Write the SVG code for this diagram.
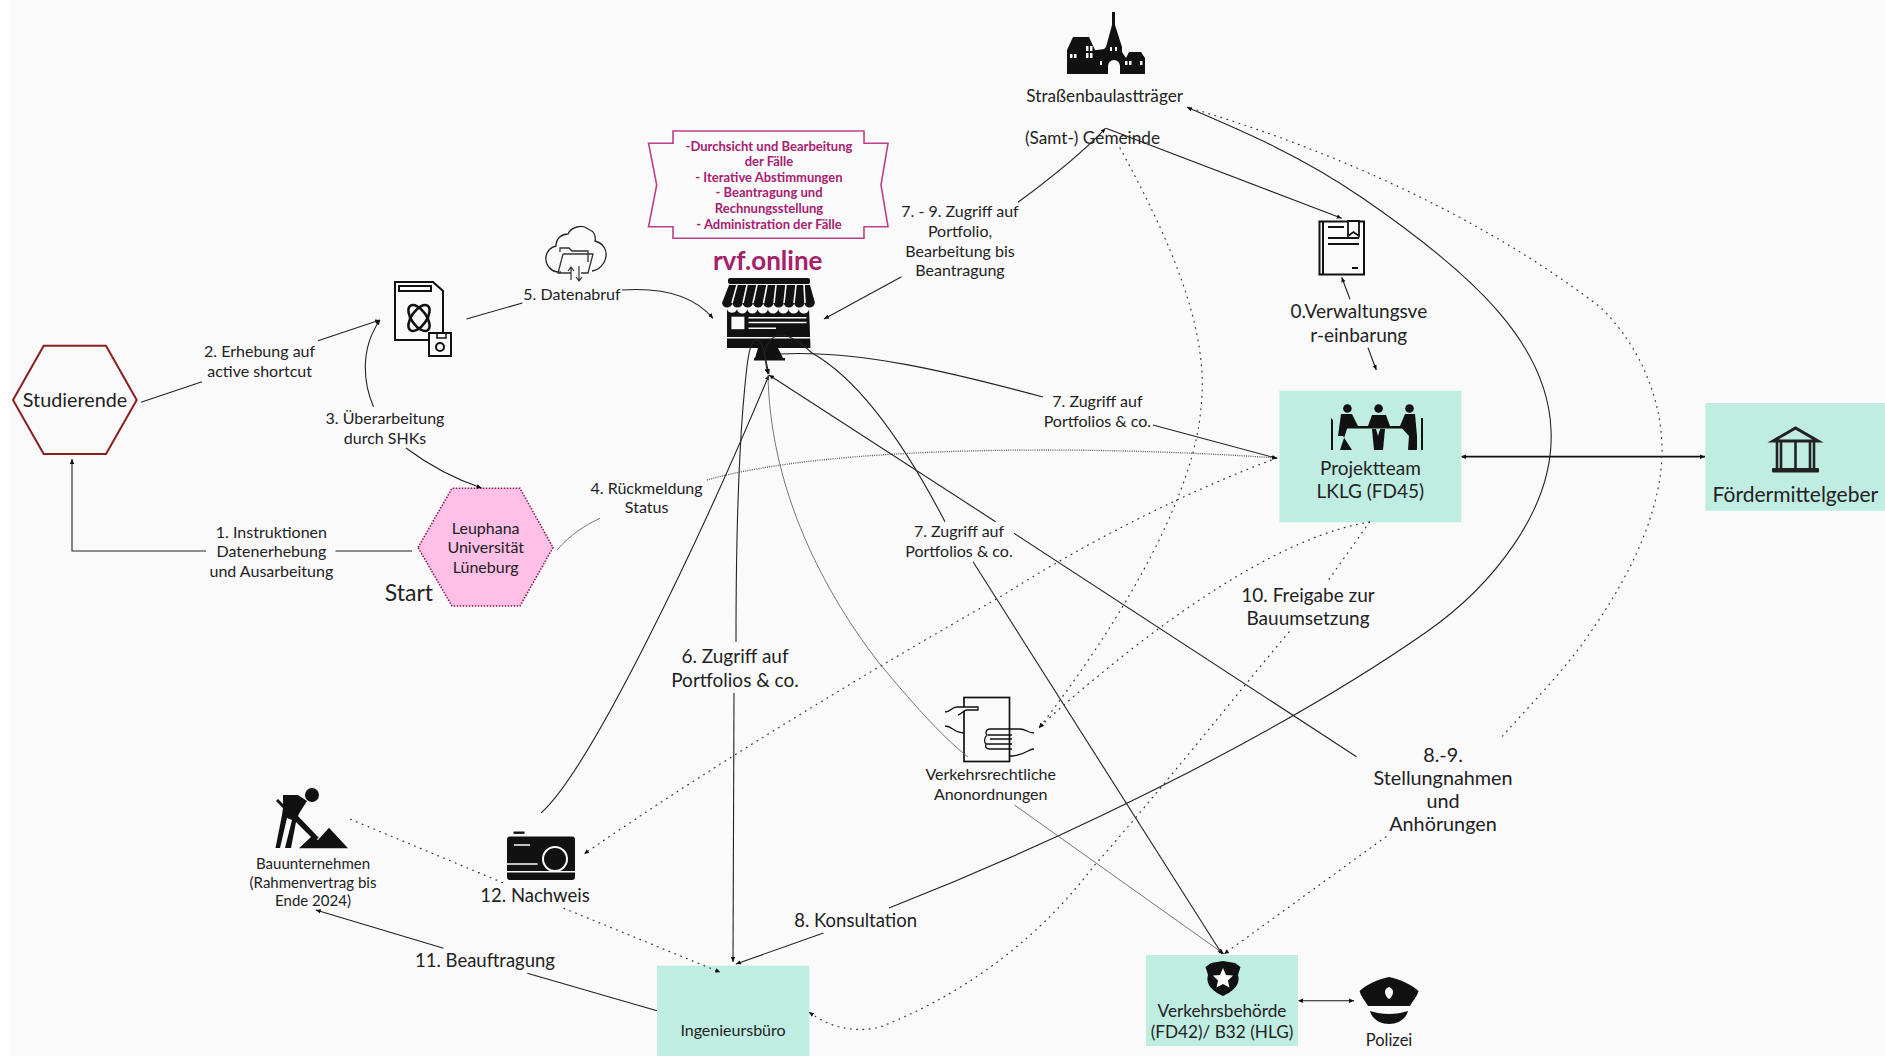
<svg xmlns="http://www.w3.org/2000/svg" width="1885" height="1056" viewBox="0 0 1885 1056">
<style>
text{font-family:"Lato","Open Sans","Liberation Sans",sans-serif;fill:#222;text-anchor:middle}
.s{font-size:16px}.m{font-size:19px}.n{font-size:17.2px}.k{font-size:18.5px}.x{font-size:19.8px}.t{font-size:15px}
.b{font-family:"Lato","Liberation Sans",sans-serif;font-weight:700;font-size:13px;fill:#A8206E}
.l{stroke:#222;stroke-width:1.1;fill:none}
.a{marker-end:url(#h)}
.d{stroke:#333;stroke-width:1.2;stroke-dasharray:0.8 5.5;fill:none;stroke-linecap:round}
.g{stroke:#666;stroke-width:0.9;fill:none}
.gd{stroke:#555;stroke-width:1.3;stroke-dasharray:1 1.2;fill:none}
.box{fill:#BFEDE1}
.i{fill:#111}
.w{fill:#FAFAFA}
.o{fill:none;stroke:#111;stroke-width:2}
.ow{fill:none;stroke:#FAFAFA;stroke-width:1.6}
</style>
<defs>
<marker id="h" markerUnits="userSpaceOnUse" markerWidth="6" markerHeight="5" refX="5" refY="2.5" orient="auto"><path d="M0,0.3 L5,2.5 L0,4.7Z" fill="#111"/></marker>
<marker id="hs" markerUnits="userSpaceOnUse" markerWidth="6" markerHeight="5" refX="1" refY="2.5" orient="auto"><path d="M5,0.3 L0,2.5 L5,4.7Z" fill="#111"/></marker>
</defs>
<rect width="1885" height="1056" fill="#fff"/>
<rect x="9" y="0" width="1876" height="1056" fill="#FAFAFA"/>

<g id="studierende">
<polygon points="13,400 43.7,345.7 106,345.7 136.7,400 106,454 43.7,454" fill="none" stroke="#8B1E1E" stroke-width="2"/>
<text class="x" x="75" y="407">Studierende</text>
</g>

<g id="leuphana">
<polygon points="418,547.5 452,488.3 520,488.3 553,547.5 520,606 452,606" fill="#FFBFE6" stroke="#8B1A55" stroke-width="1.6" stroke-dasharray="1.5 1.5"/>
<text class="s" x="485.7" y="533.5">Leuphana</text>
<text class="s" x="485.7" y="553">Universität</text>
<text class="s" x="485.7" y="572.5">Lüneburg</text>
<text x="409" y="600.5" font-size="23">Start</text>
</g>

<g id="labels">
<text class="s"><tspan x="259.6" y="357">2. Erhebung auf</tspan><tspan x="259.6" y="376.5">active shortcut</tspan></text>
<text class="s"><tspan x="385" y="424">3. Überarbeitung</tspan><tspan x="385" y="443.5">durch SHKs</tspan></text>
<text class="s"><tspan x="271.4" y="537.5">1. Instruktionen</tspan><tspan x="271.4" y="557">Datenerhebung</tspan><tspan x="271.4" y="576.5">und Ausarbeitung</tspan></text>
<text class="s" x="572" y="299.5">5. Datenabruf</text>
<text class="s"><tspan x="646.6" y="493.5">4. Rückmeldung</tspan><tspan x="646.6" y="513">Status</tspan></text>
<text class="s"><tspan x="960" y="217">7. - 9. Zugriff auf</tspan><tspan x="960" y="237">Portfolio,</tspan><tspan x="960" y="256.5">Bearbeitung bis</tspan><tspan x="960" y="276">Beantragung</tspan></text>
<text class="s"><tspan x="1097.4" y="407">7. Zugriff auf</tspan><tspan x="1097.4" y="426.5">Portfolios &amp; co.</tspan></text>
<text class="s"><tspan x="959" y="537">7. Zugriff auf</tspan><tspan x="959" y="556.5">Portfolios &amp; co.</tspan></text>
<text class="m"><tspan x="735" y="663">6. Zugriff auf</tspan><tspan x="735" y="686.5">Portfolios &amp; co.</tspan></text>
<text class="m"><tspan x="1308" y="601.5">10. Freigabe zur</tspan><tspan x="1308" y="625">Bauumsetzung</tspan></text>
<text class="x"><tspan x="1443" y="761.5">8.-9.</tspan><tspan x="1443" y="784.5">Stellungnahmen</tspan><tspan x="1443" y="807.5">und</tspan><tspan x="1443" y="831">Anhörungen</tspan></text>
<text class="k" x="855.6" y="927">8. Konsultation</text>
<text class="k" x="485" y="967">11. Beauftragung</text>
<text class="m"><tspan x="1358.8" y="318">0.Verwaltungsve</tspan><tspan x="1358.8" y="341.5">r-einbarung</tspan></text>
</g>

<g id="dokument">
<path class="o" stroke-width="2.5" d="M395,282H433L443,291V340H395Z"/>
<path class="o" d="M399,286H431V291H399Z"/>
<g fill="none" stroke="#111" stroke-width="2.6"><ellipse cx="419" cy="318" rx="7.5" ry="15" transform="rotate(35 419 318)"/><ellipse cx="419" cy="318" rx="7.5" ry="15" transform="rotate(-35 419 318)"/></g>
<path class="w" stroke="#111" stroke-width="2" d="M429,333H451V356H429Z"/>
<circle cx="440" cy="347" r="4" fill="none" stroke="#111" stroke-width="2"/>
<rect x="437" y="333" width="9" height="5" fill="none" stroke="#111" stroke-width="1.5"/>
</g>

<g id="cloud">
<path d="M561,272C549,273 545,262 546,257C547,250 552,247 556,246C556,238 562,234 568,234C571,227 582,224 588,229C594,231 596,236 595,241C603,243 607,250 606,256C605,264 599,270 592,271" fill="none" stroke="#222" stroke-width="1.3"/>
<path d="M560,252V248H569L572,251H588V262" fill="none" stroke="#333" stroke-width="1.3"/>
<path d="M563,254H593L588,273H581M571,273H558L563,254" fill="none" stroke="#333" stroke-width="1.3"/>
<path d="M571,280V268M568,271L571,267L574,271M579,266V280M576,277L579,281L582,277" fill="none" stroke="#333" stroke-width="1.2"/>
</g>

<g id="banner">
<path d="M673,131H864V143.3H888L881,185L888,226.7H864V238.3H673V226.7H648.6L656.7,185L648.6,143.3H673Z" fill="#FAFAFA" stroke="#BC3F8A" stroke-width="1.6"/>
<text class="b"><tspan x="769" y="150.5">-Durchsicht und Bearbeitung</tspan><tspan x="769" y="166">der Fälle</tspan><tspan x="769" y="181.5">- Iterative Abstimmungen</tspan><tspan x="769" y="197">- Beantragung und</tspan><tspan x="769" y="213">Rechnungsstellung</tspan><tspan x="769" y="228.5">- Administration der Fälle</tspan></text>
</g>

<g id="rvf">
<text x="767.7" y="270" font-size="26" font-weight="700" style="fill:#A52068">rvf.online</text>
<rect class="i" x="728" y="278" width="82" height="6" rx="2"/>
<path class="i" d="M729,285H810L815,303H722Z"/>
<path class="i" d="M722,303a5.2,5.2 0 0 0 10.3,0a5.2,5.2 0 0 0 10.3,0a5.2,5.2 0 0 0 10.3,0a5.2,5.2 0 0 0 10.3,0a5.2,5.2 0 0 0 10.3,0a5.2,5.2 0 0 0 10.3,0a5.2,5.2 0 0 0 10.3,0a5.2,5.2 0 0 0 10.3,0a5.2,5.2 0 0 0 10.3,0Z"/>
<path class="ow" d="M737,285L732,303M747,285L743,303M757,285L753,303M767,285L763.5,303M776,285L774,303M786,285L784,303M796,285L794,303M804,285L805,303"/>
<path class="i" d="M727,309a5.2,5.2 0 0 0 10,0a5.2,5.2 0 0 0 10.3,0a5.2,5.2 0 0 0 10.3,0a5.2,5.2 0 0 0 10.3,0a5.2,5.2 0 0 0 10.3,0a5.2,5.2 0 0 0 10.3,0a5.2,5.2 0 0 0 10.3,0a5.2,5.2 0 0 0 10.3,0L810.5,348H727Z"/>
<rect class="w" x="731.4" y="316.7" width="13" height="12.5"/>
<path class="ow" stroke-width="1.3" d="M748.5,317.7H806.5M748.5,322.5H806.5M748.5,328.3H776M727,337.7H810.5"/>
<path class="i" d="M758,348H778L783,358H755Z"/>
<rect class="i" x="754" y="358" width="31" height="2.5"/>
</g>

<g id="strassenbau">
<path class="i" d="M1067,74V50L1073,37H1089L1095,50H1097L1104,49L1106,47L1112,25V12H1115V25L1122,47V52L1126,58L1129,52H1141L1145,58V74H1120V66A6,6 0 0 0 1108,66V74Z"/>
<g class="w"><rect x="1070" y="54" width="2.5" height="4"/><rect x="1074" y="54" width="2.5" height="4"/><rect x="1086" y="46" width="2.5" height="5"/><rect x="1090" y="46" width="2.5" height="5"/><rect x="1086" y="53" width="2.5" height="5"/><rect x="1090" y="53" width="2.5" height="5"/><rect x="1110" y="47" width="2" height="4"/><rect x="1115" y="47" width="2" height="4"/><rect x="1100" y="61" width="2" height="4"/><rect x="1125" y="61" width="2.5" height="4"/><rect x="1129" y="61" width="2.5" height="4"/><rect x="1140" y="61" width="2.5" height="4"/></g>
<text class="n" x="1104.7" y="101.5">Straßenbaulastträger</text>
<text class="n" x="1092.5" y="143.5">(Samt-) Gemeinde</text>
</g>

<g id="vereinbarung">
<rect class="o" x="1319.5" y="221.5" width="44.5" height="53" stroke-width="2.2"/>
<path class="o" d="M1323,222V274"/>
<path class="o" stroke-width="1.8" d="M1328,238H1359M1328,244H1359M1328,227H1344M1352,268H1358"/>
<path d="M1348,221H1359V236L1353.5,232L1348,236Z" fill="#FAFAFA" stroke="#111" stroke-width="1.8"/>
</g>

<g id="projektteam">
<rect class="box" x="1279.5" y="390.7" width="181.8" height="131.6"/>
<g class="i"><circle cx="1347.4" cy="408.5" r="4.3"/><circle cx="1378.6" cy="408.5" r="4.3"/><circle cx="1409.5" cy="408.5" r="4.3"/>
<path d="M1341,414H1352L1358,426H1348L1340,450H1352L1343,436H1338Z"/>
<path d="M1372,415H1386L1390,426H1368Z"/>
<path d="M1372,429H1376L1378,436L1380,429H1385L1383,450H1374Z"/>
<path d="M1405,414H1415L1417,436V450H1408L1409,436L1400,426Z"/>
<rect x="1347" y="426" width="62" height="2.5"/>
<path d="M1331,418L1333,420V450H1331ZM1421,418L1423,418V450H1421Z"/></g>
<text class="m" x="1370.4" y="474.5">Projektteam</text>
<text class="m" x="1370.4" y="498">LKLG (FD45)</text>
</g>

<g id="foerdermittelgeber">
<rect class="box" x="1705.3" y="403" width="179.7" height="107.7"/>
<path d="M1773,441L1795.5,428L1818,441Z" fill="none" stroke="#222" stroke-width="3"/>
<rect x="1772" y="468" width="47" height="4.5" fill="#222" rx="1"/>
<path d="M1781,441V468M1795.5,441V468M1810,441V468" stroke="#222" stroke-width="2.6" fill="none"/>
<path d="M1777,441V468M1814,441V468" stroke="#222" stroke-width="2.6" fill="none"/>
<text x="1795.4" y="502" font-size="21">Fördermittelgeber</text>
</g>

<g id="verkehrsrechtliche">
<rect x="964" y="697.5" width="45.5" height="64" fill="none" stroke="#111" stroke-width="1.7"/>
<path d="M945,712C951,712 951,707 957,707H978V710H967C963,710 961,715 958,715" fill="#FAFAFA" stroke="#111" stroke-width="1.3"/>
<path d="M945,726C953,726 953,733 964,733M1034,733C1028,733 1026,729 1020,729H990C986,729 985,733 987,735C984,738 984,742 986,744C985,747 986,749 990,749H1012M1034,749C1028,749 1026,755 1012,756H1009M988,735H1012M986,744H1012M990,739H1012" fill="none" stroke="#111" stroke-width="1.3"/>
<text class="s" x="990.7" y="779.5">Verkehrsrechtliche</text>
<text class="s" x="990.7" y="799.5">Anonordnungen</text>
</g>

<g id="bauunternehmen">
<circle class="i" cx="312" cy="795" r="7"/>
<path class="i" d="M283,795H298L307,801L300,812L298,816L319,838L314,840L296,822L291,848H285L292,820L287,818L280,848H275.5L282,815L283,808L276,801L278,799L283,804Z"/>
<path class="i" d="M299,848.3L312,836L318,840L329,827.7L348,848.3Z"/>
<text class="t" x="313" y="869">Bauunternehmen</text>
<text class="t" x="313" y="887.5">(Rahmenvertrag bis</text>
<text class="t" x="313" y="906">Ende 2024)</text>
</g>

<g id="nachweis">
<rect class="i" x="513.5" y="831.5" width="11" height="2.4"/>
<rect class="i" x="507" y="836.5" width="68" height="43.5" rx="3"/>
<path class="ow" d="M514,845H530M507,864H537.6M507,871.7H575"/>
<circle class="i" cx="555" cy="859" r="12" stroke="#FAFAFA" stroke-width="2"/>
<text class="k" x="535" y="902">12. Nachweis</text>
</g>

<g id="ingenieursbuero">
<rect class="box" x="657" y="965.7" width="152.3" height="90.3"/>
<text class="s" x="733" y="1036">Ingenieursbüro</text>
</g>

<g id="verkehrsbehoerde">
<rect class="box" x="1146" y="955" width="152" height="91"/>
<path class="i" d="M1211,963L1223,961L1235,963L1240.5,967L1238,975C1241,985 1232,992 1223,996C1214,992 1205,985 1208,975L1205.5,967Z"/>
<polygon class="w" points="1223,968 1226,975 1233,975.5 1228,980.5 1229.5,987.5 1223,984 1216.5,987.5 1218,980.5 1213,975.5 1220,975"/>
<text class="n" x="1222" y="1016.5">Verkehrsbehörde</text>
<text class="n" x="1222" y="1037.5">(FD42)/ B32 (HLG)</text>
</g>

<g id="polizei">
<path class="i" d="M1389,977C1400,979 1412,985 1418.5,991C1417,997 1412,1002 1410,1006H1368C1366,1002 1361,997 1359.6,991C1366,985 1378,979 1389,977Z"/>
<path class="w" d="M1389,987C1392,988 1393,990 1393,992C1393,995 1391,998 1389,999C1387,998 1385,995 1385,992C1385,990 1386,988 1389,987Z"/>
<path class="i" d="M1370,1011C1382,1015 1396,1015 1408,1011C1406,1019 1398,1024 1389,1024C1380,1024 1372,1019 1370,1011Z"/>
<text x="1389" y="1046" font-size="16.5">Polizei</text>
</g>

<g id="connectors">
<path class="l" d="M412,551H335.5"/>
<path class="l a" d="M206,551H72V459"/>
<path class="l" d="M141,402.3L202,381.7"/>
<path class="l a" d="M318,340.7L380,320"/>
<path class="l a" d="M373.5,406.7C364,385 359,350 380,320"/>
<path class="l a" d="M406,448C430,466 455,479 481.6,488"/>
<path class="g" d="M557,550C570,535 585,525 600,518.3"/>
<path class="gd a" d="M707,480C830,445 1090,445 1277,458"/>
<path class="l" d="M466.5,319L522.4,303"/>
<path class="l a" d="M622,290C665,287 695,297 713,318.3"/>
<path class="l a" d="M736,641.7C736,540 738,470 743,407C746,375 748,340 756,340C764,340 764,355 769,374"/>
<path class="l a" d="M734,693L733,962"/>
<path class="l a" d="M945,521.7C905,445 860,380 812,353C800,342 790,335 781,335C770,335 763,350 765,358C766,365 767,370 768,374"/>
<path class="l a" d="M973,561.7L1222,954"/>
<path class="l" d="M1043,397C950,372 860,350 780,354"/>
<path class="l a" d="M1153,425L1277,458.3"/>
<path class="l a" d="M901.5,276.7L824,319"/>
<path class="l a" d="M1018,202.3C1055,175 1085,150 1105.5,128.3"/>
<path class="l a" d="M1106,128.3L1341.7,218.3"/>
<path class="l a" d="M1350,299.3L1341.7,277.3"/>
<path class="l a" d="M1368,347.7L1376.3,370"/>
<path d="M1462,456.7H1705" stroke="#111" stroke-width="1.8" fill="none" marker-start="url(#hs)" marker-end="url(#h)"/>
<path d="M1299,1000.7H1354" stroke="#111" stroke-width="1.1" fill="none" marker-start="url(#hs)" marker-end="url(#h)"/>
<path class="l a" d="M889,908C1100,825 1300,720 1425,633C1490,588 1555,510 1551,430C1548,345 1475,275 1361,197C1300,155 1240,130 1187,107.3"/>
<path class="l a" d="M823.5,933L736,964"/>
<path class="l a" d="M995.6,521.7L769,375"/>
<path class="l" d="M1356.5,756.7L1014,533.3"/>
<path class="l a" d="M541,813C590,770 700,540 769,375"/>
<path class="g" d="M768,375C770,480 815,580 879,663C910,700 940,735 968,757"/>
<path class="g a" d="M1014.4,805L1224,954"/>
<path class="l" d="M657,1010.7L527.3,973.3"/>
<path class="l a" d="M443.5,948.3L315.8,910"/>
<path class="d" d="M1197,110C1330,150 1480,215 1600,307C1640,345 1662,400 1662,450C1662,520 1620,590 1590,633C1565,670 1530,705 1499,740"/>
<path class="d a" d="M1386,836.7L1224,954"/>
<path class="d a" d="M1277,458C1190,490 1090,540 1000,597C880,665 720,760 584,854"/>
<path class="d a" d="M1120,148C1170,240 1210,330 1201,407C1195,490 1130,610 1039,728"/>
<path class="d a" d="M1369.6,522C1290,535 1190,600 1097,677C1075,695 1055,712 1039,728"/>
<path class="d" d="M1369.6,522L1328.5,580"/>
<path class="d a" d="M1289,632C1240,690 1157,795 1093,867C1030,950 950,1000 880,1027C855,1033 830,1028 809,1012"/>
<path class="d" d="M350.6,819.3L502.8,882.7"/>
<path class="d a" d="M564,908.3L720.3,972.3"/>
</g>
</svg>
